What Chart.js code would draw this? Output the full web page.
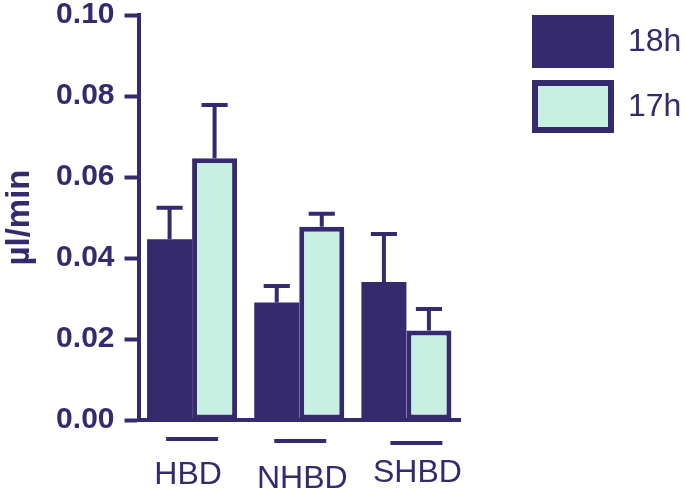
<!DOCTYPE html>
<html>
<head>
<meta charset="utf-8">
<script src="https://cdn.jsdelivr.net/npm/chart.js@4"></script>
<style>
  html, body { margin: 0; padding: 0; background: #fff; }
  #wrap { width: 685px; height: 502px; }
</style>
</head>
<body>
<div id="wrap"><canvas id="rateChart" width="685" height="502"></canvas></div>
<script>
// ==========================================
// Data
// ==========================================
const categories = ['HBD', 'NHBD', 'SHBD'];
const seriesLabels = ['18h', '17h'];
const values18h = [0.0446, 0.0290, 0.0341];
const errors18h = [0.0078, 0.0041, 0.0118];
const values17h = [0.0646, 0.0477, 0.0221];
const errors17h = [0.0132, 0.0032, 0.0053];
const yTicks = [0, 0.02, 0.04, 0.06, 0.08, 0.10];

const DARK = '#352a6e';
const MINT = '#c8f0e2';

// ==========================================
// Plugins
// ==========================================

// upward-only error bars with a cap
const errorBars = {
    id: 'errorBars',
    afterDatasetsDraw(chart) {
        const ctx = chart.ctx;
        const y = chart.scales.y;
        ctx.save();
        ctx.strokeStyle = DARK;
        ctx.lineWidth = 4;
        chart.data.datasets.forEach((ds, di) => {
            const meta = chart.getDatasetMeta(di);
            meta.data.forEach((bar, i) => {
                const top = y.getPixelForValue(ds.data[i] + ds.errors[i]);
                const half = bar.width * 0.29;
                ctx.beginPath();
                ctx.moveTo(bar.x, bar.y);
                ctx.lineTo(bar.x, top);
                ctx.moveTo(bar.x - half, top);
                ctx.lineTo(bar.x + half, top);
                ctx.stroke();
            });
        });
        ctx.restore();
    }
};

// category labels with a short line above each one
const categoryLabels = {
    id: 'categoryLabels',
    afterDraw(chart) {
        const ctx = chart.ctx;
        const x = chart.scales.x;
        const base = chart.chartArea.bottom;
        const lineDx = [0, 1, 10];
        const lineDy = [19, 21, 23];
        const textDx = [-4, 3, 11];
        const textDy = [55, 59, 53];
        ctx.save();
        ctx.fillStyle = DARK;
        ctx.strokeStyle = DARK;
        ctx.lineWidth = 4;
        ctx.font = '32px "Liberation Sans", Arial, sans-serif';
        ctx.textAlign = 'center';
        ctx.textBaseline = 'middle';
        categories.forEach((c, i) => {
            const cx = x.getPixelForValue(i);
            ctx.beginPath();
            ctx.moveTo(cx + lineDx[i] - 26, base + lineDy[i]);
            ctx.lineTo(cx + lineDx[i] + 26, base + lineDy[i]);
            ctx.stroke();
            ctx.fillText(c, cx + textDx[i], base + textDy[i]);
        });
        ctx.restore();
    }
};

// legend boxes at the top right
const boxLegend = {
    id: 'boxLegend',
    afterDraw(chart) {
        const ctx = chart.ctx;
        const left = 532, w = 82, h = 53;
        const tops = [15, 80];
        ctx.save();
        ctx.font = '32px "Liberation Sans", Arial, sans-serif';
        ctx.textBaseline = 'middle';
        chart.data.datasets.forEach((ds, i) => {
            const t = tops[i];
            ctx.fillStyle = DARK;
            ctx.fillRect(left, t, w, h);
            if (ds.borderWidth > 0) {
                const b = 6;
                ctx.fillStyle = ds.backgroundColor;
                ctx.fillRect(left + b, t + b, w - 2 * b, h - 2 * b);
            }
            ctx.fillStyle = DARK;
            ctx.fillText(ds.label, left + w + 14, t + h / 2 + 1);
        });
        ctx.restore();
    }
};

// ==========================================
// Chart
// ==========================================
new Chart(document.getElementById('rateChart'), {
    type: 'bar',
    data: {
        labels: categories,
        datasets: [
            {
                label: seriesLabels[0],
                data: values18h,
                errors: errors18h,
                backgroundColor: DARK,
                borderColor: DARK,
                borderWidth: 0
            },
            {
                label: seriesLabels[1],
                data: values17h,
                errors: errors17h,
                backgroundColor: MINT,
                borderColor: DARK,
                borderWidth: 5,
                borderSkipped: false
            }
        ]
    },
    options: {
        responsive: false,
        animation: false,
        categoryPercentage: 0.84,
        barPercentage: 1,
        layout: { padding: { top: 0, right: 225, left: 0, bottom: 0 } },
        plugins: {
            legend: { display: false },
            tooltip: { enabled: false }
        },
        scales: {
            x: {
                grid: { display: false },
                border: { display: true, color: DARK, width: 4 },
                ticks: { display: false },
                afterFit: s => { s.height = 82; }
            },
            y: {
                min: 0,
                max: 0.1,
                afterFit: s => { s.width = 138.5; s.paddingTop = 15; },
                afterBuildTicks: s => { s.ticks = yTicks.map(v => ({ value: v })); },
                grid: {
                    drawOnChartArea: false,
                    drawTicks: true,
                    tickLength: 14,
                    tickWidth: 4,
                    tickColor: DARK
                },
                border: { display: true, color: DARK, width: 4 },
                ticks: {
                    padding: 10,
                    color: DARK,
                    font: { family: '"Liberation Sans", Arial, sans-serif', size: 30, weight: 'bold', lineHeight: 1 },
                    callback: v => v.toFixed(2)
                },
                title: {
                    display: true,
                    text: 'µl/min',
                    color: DARK,
                    padding: { top: 0, bottom: 0 },
                    font: { family: '"Liberation Sans", Arial, sans-serif', size: 33, weight: 'bold' }
                }
            }
        }
    },
    plugins: [errorBars, categoryLabels, boxLegend]
});
</script>
</body>
</html>
